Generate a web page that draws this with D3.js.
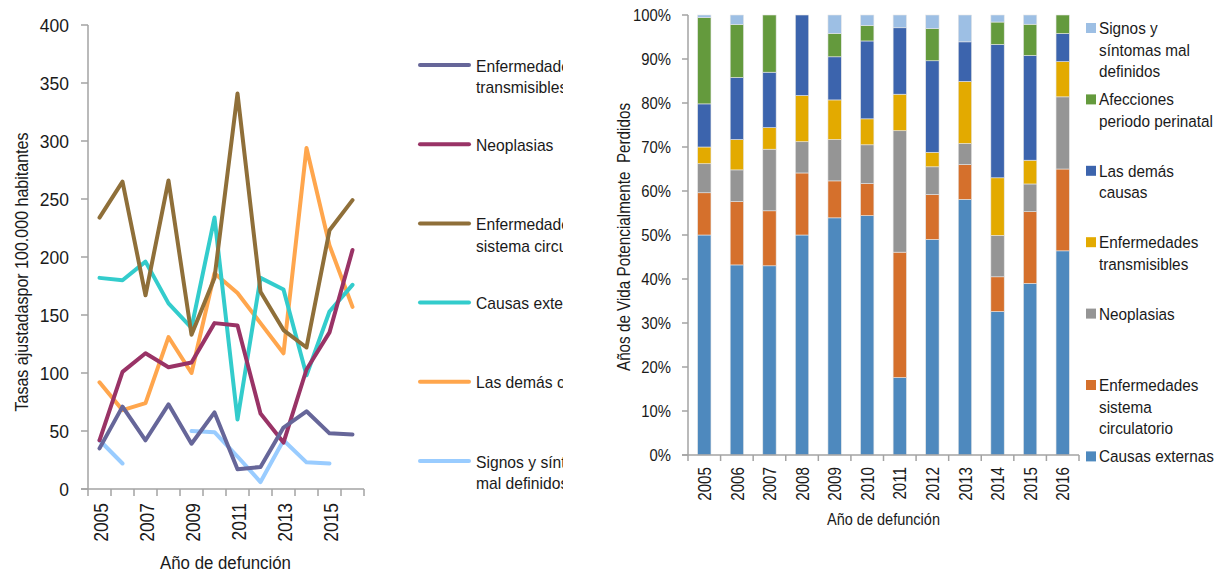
<!DOCTYPE html>
<html><head><meta charset="utf-8">
<script src="https://cdn.jsdelivr.net/npm/d3@7"></script>
<style>
body{margin:0;background:#fff}
text{font-family:"Liberation Sans",Arial,sans-serif;fill:#1a1a1a}
</style>
</head><body><svg id="c" width="1226" height="574"></svg>
<script>
// ---------- DATA ----------
const years = [2005,2006,2007,2008,2009,2010,2011,2012,2013,2014,2015,2016];
const leftTickLabels = ["2005","2007","2009","2011","2013","2015"];
const leftYTicks = [0,50,100,150,200,250,300,350,400];

// Left chart: tasas ajustadas por 100.000 habitantes
const transmisibles = [35,71,42,73,39,66,17,19,53,67,48,47];
const neoplasias    = [42,101,117,105,109,143,141,65,40,103,135,206];
const circulatorio  = [234,265,167,266,133,182,341,170,137,122,223,249];
const externas      = [182,180,196,160,139,234,60,182,172,98,153,176];
const demasCausas   = [92,68,74,131,100,186,169,143,117,294,210,157];
const signos        = [42,22,null,null,50,49,28,6,42,23,22,null];
const leftNames = ["Enfermedades transmisibles","Neoplasias","Enfermedades sistema circulatorio","Causas externas","Las demás causas","Signos y síntomas mal definidos"];
const leftLegendLines = [["Enfermedades","transmisibles"],["Neoplasias"],["Enfermedades","sistema circulatorio"],["Causas externas"],["Las demás causas"],["Signos y síntomas","mal definidos"]];
const leftColors = ["#666699","#993366","#8f6f39","#33cccc","#ffa64d","#99ccff"];

// Right chart: % Años de Vida Potencialmente Perdidos
const pctExternas      = [50.0,43.2,43.0,50.0,53.9,54.4,17.6,49.0,58.1,32.6,39.0,46.4];
const pctCirculatorio  = [9.6,14.4,12.5,14.1,8.4,7.3,28.5,10.2,7.9,7.9,16.3,18.6];
const pctNeoplasias    = [6.6,7.2,14.0,7.1,9.4,8.8,27.6,6.3,4.8,9.4,6.3,16.4];
const pctTransmisibles = [3.8,6.9,4.9,10.5,9.0,5.9,8.3,3.3,14.1,13.1,5.4,8.0];
const pctDemas         = [9.8,14.1,12.6,18.3,9.8,17.7,15.1,20.8,9.0,30.3,23.8,6.4];
const pctPerinatal     = [19.6,12.0,13.0,0,5.3,3.5,0,7.3,0,5.1,7.1,4.2];
const pctSignos        = [0.6,2.2,0,0,4.2,2.4,2.9,3.1,6.1,1.6,2.1,0];
const rightKeys = ["externas","circulatorio","neoplasias","transmisibles","demas","perinatal","signos"];
const rightColors = ["#4e89be","#d5702c","#959595","#e3aa00","#3c64ad","#649a3d","#9dbfe4"];
const rightLegendLines = {
  signos:["Signos y","síntomas mal","definidos"],
  perinatal:["Afecciones","periodo perinatal"],
  demas:["Las demás","causas"],
  transmisibles:["Enfermedades","transmisibles"],
  neoplasias:["Neoplasias"],
  circulatorio:["Enfermedades","sistema","circulatorio"],
  externas:["Causas externas"]
};
const rightYTicks = [0,10,20,30,40,50,60,70,80,90,100];

// ---------- DRAW ----------
const svg = d3.select("#c");
const AX = "#a3a3a3";

function htext(parent, x, y, str, size, anchor, sx){
  return parent.append("text")
    .attr("transform",`translate(${x},${y}) scale(${sx},1)`)
    .attr("text-anchor",anchor).style("font-size",size+"px").text(str);
}

// ===== Left chart =====
const L = svg.append("g");
const xL = d3.scaleBand().domain(years).range([88,364]).padding(0);
const yL = d3.scaleLinear().domain([0,400]).range([489,25]);

// y axis
L.append("line").attr("x1",88).attr("x2",88).attr("y1",yL(400)).attr("y2",yL(0)).attr("stroke",AX).attr("stroke-width",1.5);
leftYTicks.forEach(v=>{
  L.append("line").attr("x1",81).attr("x2",88).attr("y1",yL(v)).attr("y2",yL(v)).attr("stroke",AX).attr("stroke-width",1.5);
  htext(L,69,yL(v)+6.7,String(v),18.6,"end",0.94);
});
// x axis
L.append("line").attr("x1",81).attr("x2",xL.range()[1]).attr("y1",yL(0)).attr("y2",yL(0)).attr("stroke",AX).attr("stroke-width",1.5);
const bL = years.map(y=>xL(y)).concat([xL.range()[1]]);
bL.forEach(x=>{
  L.append("line").attr("x1",x).attr("x2",x).attr("y1",yL(0)).attr("y2",yL(0)+7).attr("stroke",AX).attr("stroke-width",1.5);
});
leftTickLabels.forEach(t=>{
  const cx = xL(+t)+xL.bandwidth()/2;
  L.append("text").attr("transform",`translate(${cx+0.5},503) rotate(-90) scale(0.83,1)`)
   .attr("text-anchor","end").attr("dy","0.36em").style("font-size","21px").text(t);
});
// titles
L.append("text").attr("transform","translate(28,272) rotate(-90)").attr("text-anchor","middle")
  .style("font-size","18.5px").attr("textLength",279).attr("lengthAdjust","spacingAndGlyphs")
  .text("Tasas ajustadaspor 100.000 habitantes");
htext(L,225.5,569,"Año de defunción",18.5,"middle",0.91);

// lines
const leftSeries = [transmisibles,neoplasias,circulatorio,externas,demasCausas,signos];
const line = d3.line().defined(d=>d.v!==null).x(d=>xL(d.y)+xL.bandwidth()/2).y(d=>yL(d.v));
const drawOrder = [5,4,3,2,1,0];
drawOrder.forEach(i=>{
  const data = years.map((y,j)=>({y, v:leftSeries[i][j]}));
  L.append("path").datum(data).attr("d",line).attr("fill","none")
   .attr("stroke",leftColors[i]).attr("stroke-width",4).attr("stroke-linejoin","round").attr("stroke-linecap","round");
});

// left legend (clipped)
svg.append("clipPath").attr("id","lclip").append("rect").attr("x",400).attr("y",0).attr("width",163).attr("height",574);
const LL = svg.append("g").attr("clip-path","url(#lclip)");
leftNames.forEach((n,i)=>{
  const ly = 65 + i*79.2;
  LL.append("line").attr("x1",420).attr("x2",469).attr("y1",ly).attr("y2",ly)
    .attr("stroke",leftColors[i]).attr("stroke-width",4).attr("stroke-linecap","round");
  leftLegendLines[i].forEach((s,k)=>{
    htext(LL,476,ly+6.6+k*21.6,s,17.4,"start",0.9);
  });
});

// ===== Right chart =====
const R = svg.append("g");
const xR = d3.scaleBand().domain(years).range([688,1079]).paddingInner(0.59).paddingOuter(0.295);
const yR = d3.scaleLinear().domain([0,100]).range([455,15]);
const table = years.map((y,j)=>({year:y, externas:pctExternas[j], circulatorio:pctCirculatorio[j], neoplasias:pctNeoplasias[j],
  transmisibles:pctTransmisibles[j], demas:pctDemas[j], perinatal:pctPerinatal[j], signos:pctSignos[j]}));
const stack = d3.stack().keys(rightKeys).offset(d3.stackOffsetExpand)(table);
stack.forEach((layer,i)=>{
  R.append("g").selectAll("rect").data(layer).join("rect")
    .attr("x",d=>xR(d.data.year)).attr("width",xR.bandwidth())
    .attr("y",d=>yR(d[1]*100)).attr("height",d=>Math.max(0,yR(d[0]*100)-yR(d[1]*100)))
    .attr("fill",rightColors[i]).attr("stroke","#e6e6e6").attr("stroke-width",0.6);
});
// axes
R.append("line").attr("x1",688).attr("x2",688).attr("y1",yR(100)).attr("y2",yR(0)).attr("stroke",AX).attr("stroke-width",1.5);
rightYTicks.forEach(v=>{
  R.append("line").attr("x1",682).attr("x2",688).attr("y1",yR(v)).attr("y2",yR(v)).attr("stroke",AX).attr("stroke-width",1.5);
  htext(R,671,yR(v)+5.6,v+"%",15.8,"end",0.94);
});
R.append("line").attr("x1",682).attr("x2",1079).attr("y1",yR(0)).attr("y2",yR(0)).attr("stroke",AX).attr("stroke-width",1.5);
const step = xR.step();
years.concat([null]).forEach((y,i)=>{
  const x = 688 + i*step;
  R.append("line").attr("x1",x).attr("x2",x).attr("y1",yR(0)).attr("y2",yR(0)+6).attr("stroke",AX).attr("stroke-width",1.5);
});
years.forEach(y=>{
  const cx = xR(y)+xR.bandwidth()/2;
  R.append("text").attr("transform",`translate(${cx},467) rotate(-90) scale(0.82,1)`)
   .attr("text-anchor","end").attr("dy","0.36em").style("font-size","18.5px").text(String(y));
});
R.append("text").attr("transform","translate(630,237) rotate(-90)").attr("text-anchor","middle")
  .style("font-size","17.7px").style("white-space","pre").attr("textLength",268).attr("lengthAdjust","spacingAndGlyphs")
  .text("Años de Vida Potencialmente  Perdidos");
htext(R,883.5,525,"Año de defunción",16.5,"middle",0.88);

// right legend
const legOrder = ["signos","perinatal","demas","transmisibles","neoplasias","circulatorio","externas"];
legOrder.forEach((k,i)=>{
  const cy = 28 + i*71.4;
  R.append("rect").attr("x",1086).attr("y",cy-5).attr("width",10).attr("height",10).attr("fill",rightColors[rightKeys.indexOf(k)]);
  rightLegendLines[k].forEach((s,m)=>{
    htext(R,1099,cy+6+m*21.6,s,16.3,"start",0.94);
  });
});
</script>
</body></html>
